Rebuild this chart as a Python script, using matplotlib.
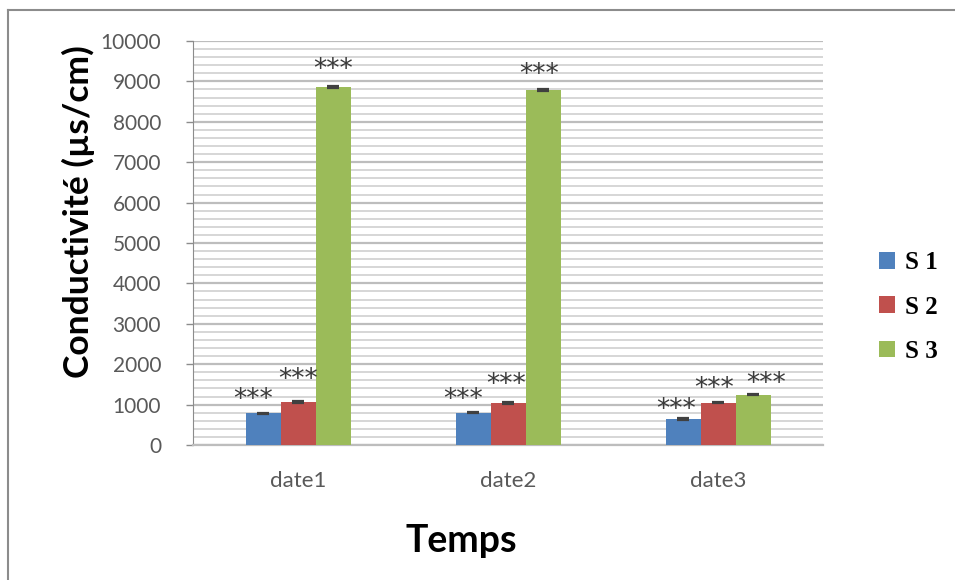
import matplotlib

matplotlib.use("Agg")
import matplotlib.pyplot as plt
import numpy as np
from matplotlib.lines import Line2D
from matplotlib.patches import Patch
from matplotlib.ticker import MultipleLocator

# values
dates = ["date1", "date2", "date3"]
series = ["S 1", "S 2", "S 3"]
s1 = [780, 800, 645]
s2 = [1060, 1035, 1050]
s3 = [8860, 8780, 1250]
err1 = [20, 20, 20]
err2 = [20, 20, 20]
err3 = [20, 20, 20]

# "***" labels were placed by hand: offset (category units, data units) per bar
star_dx = [[-0.045, -0.045, -0.035], [0.0, -0.007, -0.017], [0.0, -0.021, 0.064]]
star_dy = [[495, 470, 396], [718, 619, 495], [594, 545, 421]]

colors = ["#4F81BD", "#C0504D", "#9BBB59"]
GRAY = "#595959"

W, H = 955, 580
fig = plt.figure(figsize=(W / 100, H / 100), dpi=100)
ax = fig.add_axes([193 / W, 1 - 445 / H, 630 / W, 404 / H])

x = np.arange(len(dates))
bw = 1 / 6
vals = [s1, s2, s3]
errs = [err1, err2, err3]
for i, (v, e) in enumerate(zip(vals, errs)):
    pos = x + (i - 1) * bw
    ax.bar(pos, v, width=bw, color=colors[i], zorder=3)
    ax.errorbar(pos, v, yerr=e, fmt="none", ecolor="#404040", elinewidth=1.2,
                capsize=4.5, capthick=1.6, zorder=4)
    for j in range(len(dates)):
        ax.text(pos[j] + star_dx[i][j], v[j] + star_dy[i][j] - 340, "***",
                ha="center", va="baseline", fontsize=19, color="#3a3a3a",
                family="DejaVu Sans", zorder=5)

ax.set_xlim(-0.5, 2.5)
ax.set_ylim(0, 10000)
ax.yaxis.set_major_locator(MultipleLocator(1000))
ax.yaxis.set_minor_locator(MultipleLocator(200))
ax.grid(True, which="major", axis="y", color="#bdbdbd", lw=1.6, zorder=0)
ax.grid(True, which="minor", axis="y", color="#d6d6d6", lw=1.4, zorder=0)
ax.set_xticks(x)
ax.set_xticklabels(dates)
ax.tick_params(axis="x", length=0, pad=19, labelsize=16, labelcolor=GRAY)
ax.tick_params(axis="y", which="major", length=5, width=1, color="#8c8c8c",
               pad=18, labelsize=15, labelcolor=GRAY)
ax.tick_params(axis="y", which="minor", length=0)
for lab in ax.get_xticklabels() + ax.get_yticklabels():
    lab.set_family("Lato")
for s in ["top", "right"]:
    ax.spines[s].set_visible(False)
ax.spines["left"].set_color("#8c8c8c")
ax.spines["bottom"].set_color("#bdbdbd")
ax.spines["bottom"].set_linewidth(1.6)

fig.text(78 / W, 1 - 212 / H, "Conductivité (µs/cm)", rotation=90,
         ha="center", va="center", fontsize=25.5, fontweight="bold", family="Lato")
fig.text(461 / W, 1 - 541 / H, "Temps", ha="center", va="center",
         fontsize=27, fontweight="bold", family="Lato")

handles = [Patch(facecolor=c, edgecolor="none") for c in colors]
leg = fig.legend(handles, series, loc="center left",
                 bbox_to_anchor=(856 / W, 1 - 307 / H), frameon=False,
                 prop={"family": "Liberation Serif", "weight": "bold", "size": 18},
                 handlelength=0.65, handleheight=0.65, handletextpad=0.4,
                 labelspacing=0.85)

# chart frame
fig.add_artist(Line2D([8 / W, 1], [1 - 10 / H, 1 - 10 / H], color="#8c8c8c", lw=1.5))
fig.add_artist(Line2D([8 / W, 8 / W], [0, 1 - 10 / H], color="#8c8c8c", lw=1.5))

fig.savefig("out.png", dpi=100, facecolor="white")
